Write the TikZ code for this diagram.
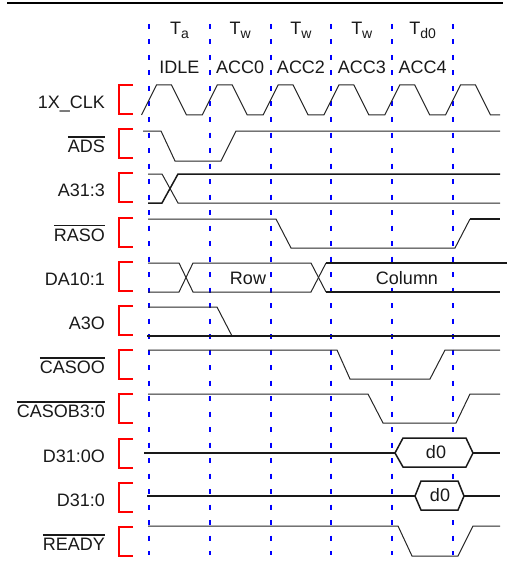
\documentclass[tikz,border=0pt]{standalone}
\usepackage{fontspec}
\setmainfont{Liberation Sans}
\newcommand{\negsig}[1]{\leavevmode\vbox{\hrule height 1.4pt \kern 2.6pt \hbox{#1}}}
\newcommand{\lowsub}[1]{\raisebox{-4pt}{\fontsize{14}{16}\selectfont #1}}
\tikzset{
  sig/.style={anchor=base east, inner sep=0pt, text=black!90},
  hdr/.style={anchor=base, inner sep=0pt, text=black!90},
  txt/.style={anchor=base, inner sep=1.5pt, fill=white, text=black!90},
  wave/.style={line width=1pt, black!85},
  bus/.style={line width=1.5pt, black!90},
  clkline/.style={blue, line width=2pt, dash pattern=on 5pt off 10.5pt},
  brk/.style={red, line width=2pt}
}
\begin{document}
\begin{tikzpicture}
    [x=1pt, y=-1pt, font=\fontsize{18}{20}\selectfont]

    \useasboundingbox (0,0) rectangle (507,575);
    \draw [line width=2.5pt] (7,3) -- (503,3);

    % clock edges
    \foreach \k in {0,...,5}
      \draw [clkline] ({149+60.8*\k},24) -- ({149+60.8*\k},555);

    \node [hdr] at (179.4, 35) (t0) {T\lowsub{a}};
    \node [hdr] at (240.2, 35) (t1) {T\lowsub{w}};
    \node [hdr] at (301.0, 35) (t2) {T\lowsub{w}};
    \node [hdr] at (361.8, 35) (t3) {T\lowsub{w}};
    \node [hdr] at (422.6, 35) (t4) {T\lowsub{d0}};

    \node [hdr] at (179.4, 74) (s0) {IDLE};
    \node [hdr] at (240.2, 74) (s1) {ACC0};
    \node [hdr] at (301.0, 74) (s2) {ACC2};
    \node [hdr] at (361.8, 74) (s3) {ACC3};
    \node [hdr] at (422.6, 74) (s4) {ACC4};

    % signal names
    \node [sig] at (105, 108.5) (n1)  {1X\_CLK};
    \node [sig] at (105, 152.7) (n2)  {\negsig{ADS}};
    \node [sig] at (105, 196.9) (n3)  {A31:3};
    \node [sig] at (105, 241.1) (n4)  {\negsig{RASO}};
    \node [sig] at (105, 285.3) (n5)  {DA10:1};
    \node [sig] at (105, 329.5) (n6)  {A3O};
    \node [sig] at (105, 373.7) (n7)  {\negsig{CASOO}};
    \node [sig] at (105, 417.9) (n8)  {\negsig{CASOB3:0}};
    \node [sig] at (105, 462.1) (n9)  {D31:0O};
    \node [sig] at (105, 506.3) (n10) {D31:0};
    \node [sig] at (105, 550.5) (n11) {\negsig{READY}};

    \foreach \i in {0,...,10}
      \draw [brk] (133, {85+44.2*\i}) -- (119, {85+44.2*\i})
                  -- (119, {114+44.2*\i}) -- (133, {114+44.2*\i});

    % 1X_CLK
    \draw [wave] (141.5,115) \foreach \k in {0,...,5} {
        -- ({141.5+60.8*\k},115) -- ({156.5+60.8*\k},85)
        -- ({171.5+60.8*\k},85) -- ({186.5+60.8*\k},115) } -- (500,115);

    % ADS
    \draw [wave] (143,131) -- (161,131) -- (175,161) -- (221,161) -- (236,131) -- (500,131);

    % A31:3
    \draw [wave] (148,174) -- (162,174) -- (178,203) -- (500,203);
    \draw [bus]  (148,203) -- (162,203) -- (178,174) -- (500,174);

    % RASO
    \draw [wave] (148,219) -- (276,219) -- (291,248) -- (455,248) -- (470,219);
    \draw [bus]  (470,219) -- (500,219);

    % DA10:1
    \draw [wave] (148,263) -- (179,263) -- (193,292) -- (311,292) -- (326,263);
    \draw [wave] (148,292) -- (179,292) -- (193,263) -- (311,263) -- (326,292);
    \draw [bus]  (326,263) -- (507,263);
    \draw [bus]  (326,292) -- (500,292);
    \node [txt] at (248,284.3) (row) {Row};
    \node [txt] at (407,284.3) (col) {Column};

    % A3O
    \draw [wave] (148,307) -- (217,307) -- (232,336);
    \draw [bus]  (147,336) -- (500,336);

    % CASOO
    \draw [wave] (148,350) -- (337,350) -- (350,379) -- (430,379) -- (445,350) -- (500,350);

    % CASOB3:0
    \draw [wave] (148,394) -- (368,394) -- (383,423) -- (456,423) -- (470,394) -- (500,394);

    % D31:0O
    \draw [bus]  (144,453) -- (395,453);
    \draw [bus, fill=white] (395,453) -- (403,438) -- (466,438) -- (473,453)
                            -- (466,467) -- (403,467) -- cycle;
    \draw [bus]  (473,453) -- (500,453);
    \node [hdr] at (436,458) (d0a) {d0};

    % D31:0
    \draw [bus]  (147,496) -- (415,496);
    \draw [bus, fill=white] (415,496) -- (421,481) -- (458,481) -- (464,496)
                            -- (458,510) -- (421,510) -- cycle;
    \draw [bus]  (464,496) -- (500,496);
    \node [hdr] at (440,501) (d0b) {d0};

    % READY
    \draw [wave] (148,526) -- (398,526) -- (412,556) -- (458,556) -- (473,526) -- (500,526);

  \end{tikzpicture}
\end{document}
